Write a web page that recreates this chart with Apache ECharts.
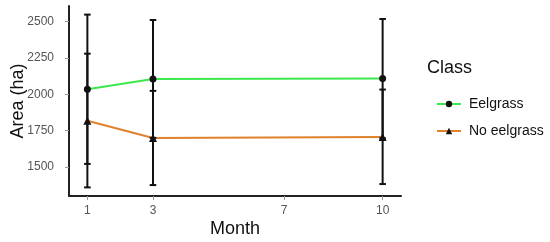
<!DOCTYPE html>
<html>
<head>
<meta charset="utf-8">
<script src="https://cdn.jsdelivr.net/npm/echarts@6/dist/echarts.min.js"></script>
<style>
  html, body { margin: 0; padding: 0; background: #fff; }
  #chart { width: 550px; height: 242px; }
</style>
</head>
<body>
<div id="chart"></div>
<script>
// months and tick labels
var months = [1, 3, 10];
var xTicks = [1, 3, 7, 10];
var yTicks = [1500, 1750, 2000, 2250, 2500];

// mean area (ha) and error bar bounds
var eelMean = [2034, 2105, 2107];
var eelLow = [1522, 1701, 1698];
var eelHigh = [2546, 2509, 2516];

var noMean = [1818, 1700, 1707];
var noLow = [1361, 1377, 1384];
var noHigh = [2278, 2023, 2032];

var font = 'Liberation Sans, Arial, sans-serif';

function pairs(xs, ys) {
    return xs.map(function (x, i) { return [x, ys[i]]; });
}
function bars(xs, lo, hi) {
    return xs.map(function (x, i) { return [x, lo[i], hi[i]]; });
}

// error bars drawn through the axis scales
var errRender = function (params, api) {
    var x = api.value(0);
    var lo = api.coord([x, api.value(1)]);
    var hi = api.coord([x, api.value(2)]);
    var l = api.coord([x - 0.1, 0])[0];
    var r = api.coord([x + 0.1, 0])[0];
    var st = { stroke: '#111', lineWidth: 2 };
    return {
        type: 'group',
        children: [
            { type: 'line', shape: { x1: lo[0], y1: lo[1], x2: hi[0], y2: hi[1] }, style: st },
            { type: 'line', shape: { x1: l, y1: lo[1], x2: r, y2: lo[1] }, style: st },
            { type: 'line', shape: { x1: l, y1: hi[1], x2: r, y2: hi[1] }, style: st }
        ]
    };
};

var myChart = echarts.init(document.getElementById('chart'));

var option = {
    backgroundColor: '#fff',
    animation: false,
    grid: { left: 69, right: 149, top: 6, bottom: 46, containLabel: false, outerBoundsMode: 'none' },
    legend: {
        orient: 'vertical',
        left: 431,
        top: 92,
        itemWidth: 24,
        itemHeight: 8,
        itemGap: 13,
        data: ['Eelgrass', 'No eelgrass'],
        textStyle: { fontFamily: font, fontSize: 14, color: '#111', padding: [0, 0, 0, 3] }
    },
    graphic: [{
        type: 'text',
        left: 427,
        top: 59,
        style: { text: 'Class', font: '18px ' + font, fill: '#111' }
    }],
    xAxis: {
        type: 'value',
        min: 0.44,
        max: 10.56,
        name: 'Month',
        nameLocation: 'middle',
        nameGap: 24,
        nameMoveOverlap: false,
        nameTextStyle: { fontFamily: font, fontSize: 18, color: '#111' },
        splitLine: { show: false },
        axisLine: { show: true, lineStyle: { color: '#222', width: 2 } },
        axisTick: { show: true, length: 4, customValues: xTicks, lineStyle: { color: '#999' } },
        axisLabel: {
            customValues: xTicks, fontFamily: font, fontSize: 12, color: '#555', margin: 9,
            formatter: function (v) { return String(v); }
        }
    },
    yAxis: {
        type: 'value',
        min: 1302,
        max: 2605,
        name: 'Area (ha)',
        nameLocation: 'middle',
        nameGap: 42,
        nameMoveOverlap: false,
        nameTextStyle: { fontFamily: font, fontSize: 18, color: '#111' },
        splitLine: { show: false },
        axisLine: { show: true, lineStyle: { color: '#222', width: 2 } },
        axisTick: { show: true, length: 4, customValues: yTicks, lineStyle: { color: '#999' } },
        axisLabel: {
            customValues: yTicks, fontFamily: font, fontSize: 12, color: '#555', margin: 15,
            formatter: function (v) { return String(v); }
        }
    },
    series: [
        {
            name: 'Eelgrass',
            type: 'line',
            data: pairs(months, eelMean),
            symbol: 'circle',
            symbolSize: 7,
            lineStyle: { color: '#3de84e', width: 2 },
            itemStyle: { color: '#111' },
            z: 2
        },
        {
            name: 'No eelgrass',
            type: 'line',
            data: pairs(months, noMean),
            symbol: 'triangle',
            symbolSize: 8,
            lineStyle: { color: '#e0812c', width: 2 },
            itemStyle: { color: '#111' },
            z: 2
        },
        {
            type: 'custom',
            renderItem: errRender,
            data: bars(months, eelLow, eelHigh),
            z: 3
        },
        {
            type: 'custom',
            renderItem: errRender,
            data: bars(months, noLow, noHigh),
            z: 3
        }
    ]
};

myChart.setOption(option);
</script>
</body>
</html>
